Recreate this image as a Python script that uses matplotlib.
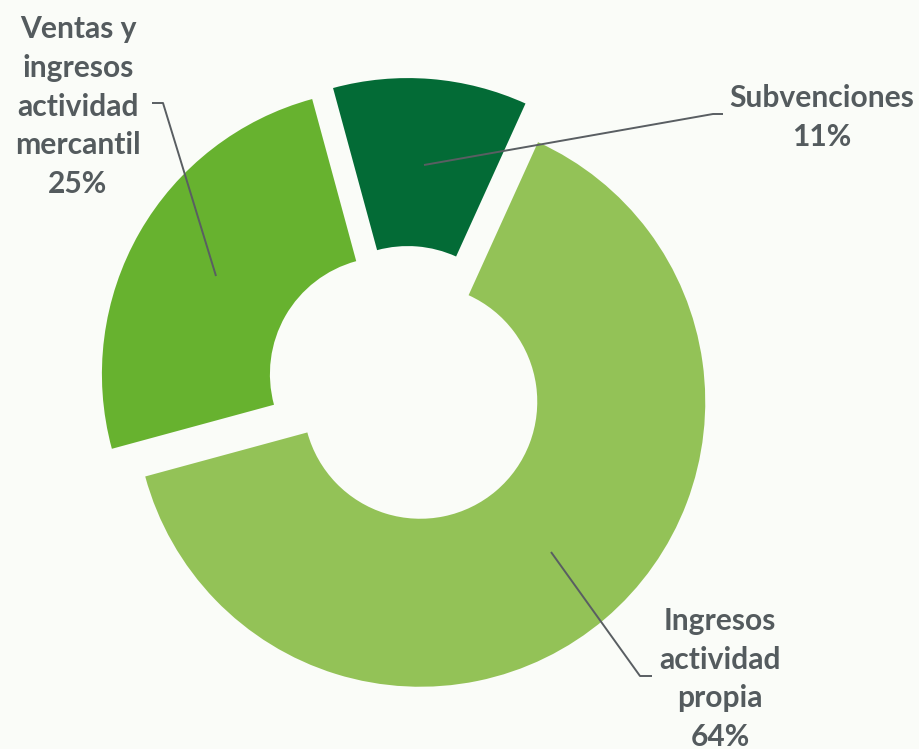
import matplotlib
matplotlib.use("Agg")
import matplotlib.pyplot as plt

categories = ["Subvenciones", "Ingresos\nactividad\npropia", "Ventas y\ningresos\nactividad\nmercantil"]
values = [11, 64, 25]
colors = ["#036B36", "#93C257", "#67B22F"]

BG = "#FAFCF8"
TXT = "#545B5E"
W, H = 920, 749

fig = plt.figure(figsize=(W / 100, H / 100), dpi=100, facecolor=BG)
ax = fig.add_axes([0, 0, 1, 1])
ax.set_facecolor(BG)

def py(y):
    return H - y

R = 285
r_in = 117
ax.pie(values, explode=[22, 22, 22], startangle=105.2, counterclock=False,
       radius=R, center=(406, py(385)), colors=colors,
       wedgeprops=dict(width=R - r_in, linewidth=0))
ax.set_xlim(0, W)
ax.set_ylim(0, H)
ax.set_aspect("auto")
ax.axis("off")

font = dict(family="Lato", fontweight="bold", fontsize=21.6, color=TXT,
            ha="center", va="center", multialignment="center", linespacing=1.46)

labels = [f"{c}\n{v}%" for c, v in zip(categories, values)]
label_pos = [(822, 117.5), (720, 679), (78, 106.5)]
leaders = [
    [(424, 165), (713, 114), (723, 114)],
    [(551, 552), (640, 676), (652, 676)],
    [(216, 276), (163, 103), (152, 103)],
]
for lab, (x, y), pts in zip(labels, label_pos, leaders):
    ax.text(x, py(y), lab, **font)
    xs = [p[0] for p in pts]
    ys = [py(p[1]) for p in pts]
    ax.plot(xs, ys, color="#595E62", lw=1.4, solid_capstyle="butt")

fig.savefig("out.png", dpi=100, facecolor=BG)
